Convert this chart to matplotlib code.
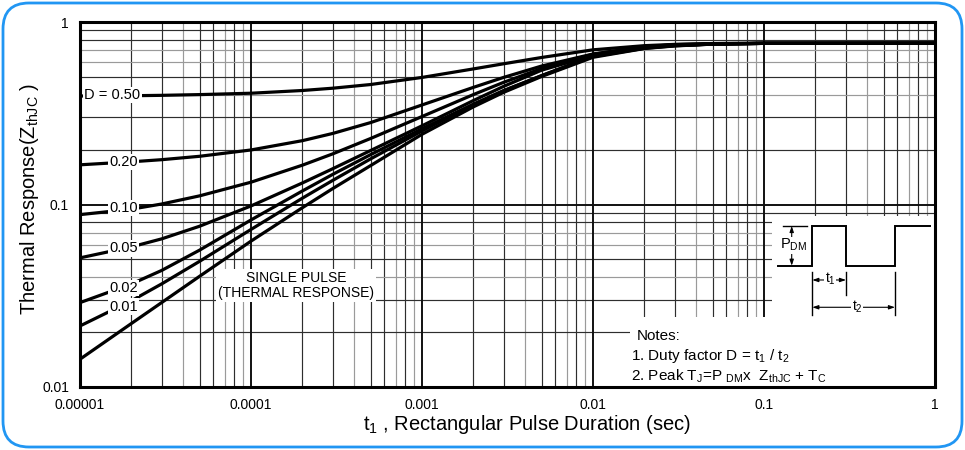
import numpy as np
import matplotlib
matplotlib.use("Agg")
import matplotlib.pyplot as plt
from matplotlib.patches import Rectangle, FancyBboxPatch
from matplotlib.transforms import IdentityTransform

plt.rcParams['font.family'] = ['Liberation Sans', 'DejaVu Sans']
plt.rcParams['mathtext.fontset'] = 'custom'
plt.rcParams['mathtext.rm'] = 'Liberation Sans'
plt.rcParams['mathtext.it'] = 'Liberation Sans'
plt.rcParams['mathtext.bf'] = 'Liberation Sans:bold'

# ---------------- data ----------------
t = [1e-5, 2e-5, 3e-5, 5e-5, 1e-4, 2e-4, 3e-4, 5e-4, 1e-3, 2e-3, 3e-3, 5e-3,
     1e-2, 2e-2, 3e-2, 5e-2, 1e-1, 1.0]
z_d50 = [0.393, 0.3945, 0.3964, 0.4001, 0.4071, 0.4214, 0.4337, 0.4543, 0.4969, 0.5534, 0.5903, 0.639,
         0.704, 0.742, 0.754, 0.7614, 0.7647, 0.765]
z_d20 = [0.165, 0.1714, 0.176, 0.1837, 0.199, 0.2238, 0.245, 0.281, 0.351, 0.4385, 0.497, 0.5736,
         0.668, 0.731, 0.752, 0.762, 0.765, 0.765]
z_d10 = [0.088, 0.0943, 0.1006, 0.1115, 0.1325, 0.1643, 0.1893, 0.2299, 0.3034, 0.4004, 0.467, 0.5557,
         0.6656, 0.7333, 0.7484, 0.7561, 0.7636, 0.765]
z_d05 = [0.051, 0.0586, 0.0648, 0.076, 0.0982, 0.1313, 0.1569, 0.1975, 0.2699, 0.3714, 0.4437, 0.5443,
         0.6566, 0.7234, 0.744, 0.7575, 0.7638, 0.765]
z_d02 = [0.029, 0.0367, 0.0435, 0.0562, 0.0823, 0.1187, 0.1461, 0.1875, 0.2599, 0.3549, 0.4207, 0.5084,
         0.6523, 0.7214, 0.7435, 0.7568, 0.7637, 0.765]
z_d01 = [0.0216, 0.0297, 0.0367, 0.0488, 0.073, 0.1084, 0.1354, 0.1777, 0.2529, 0.3528, 0.4199, 0.5075,
         0.6467, 0.7176, 0.741, 0.7565, 0.7638, 0.765]
z_single = [0.0142, 0.0223, 0.029, 0.0404, 0.063, 0.0961, 0.1221, 0.1633, 0.2425, 0.343, 0.4116, 0.5026,
            0.6405, 0.7158, 0.7391, 0.7565, 0.7638, 0.765]

curves = [z_d50, z_d20, z_d10, z_d05, z_d02, z_d01, z_single]
curve_labels = ["D = 0.50", "0.20", "0.10", "0.05", "0.02", "0.01"]
label_t = [1.55e-5, 1.79e-5, 1.79e-5, 1.79e-5, 1.79e-5, 1.79e-5]
label_z = [0.398, 0.171, 0.096, 0.0575, 0.0348, 0.0276]

x_ticks = [1e-5, 1e-4, 1e-3, 1e-2, 1e-1, 1]
x_ticklabels = ["0.00001", "0.0001", "0.001", "0.01", "0.1", "1"]
y_ticks = [0.01, 0.1, 1]
y_ticklabels = ["0.01", "0.1", "1"]

# ---------------- figure ----------------
fig = plt.figure(figsize=(9.65, 4.5), dpi=100)
ax = fig.add_axes([80/965, 1-387/450, 855/965, 365/450])
ax.set_xscale('log')
ax.set_yscale('log')
ax.set_xlim(1e-5, 1)
ax.set_ylim(0.01, 1)

# grid
dark, light = '#2e2e2e', '#9a9a9a'
gray_digits = {4, 7, 9}
for dec in [1e-5, 1e-4, 1e-3, 1e-2, 1e-1]:
    for d in range(2, 10):
        ax.axvline(dec*d, color=light if d in gray_digits else dark, lw=0.85, zorder=0.5)
for dec in [1e-2, 1e-1]:
    for d in range(2, 10):
        ax.axhline(dec*d, color=light if d in {4, 6, 7} else dark, lw=0.85, zorder=0.5)
for v in x_ticks[1:-1]:
    ax.axvline(v, color='#111111', lw=1.4, zorder=0.6)
ax.axhline(0.1, color='#111111', lw=1.4, zorder=0.6)

# white panels (notes + pulse diagram)
ax.add_patch(Rectangle((0.643, 0), 0.357, 0.192, transform=ax.transAxes,
                       facecolor='white', edgecolor='none', zorder=1))
ax.add_patch(Rectangle((0.809, 0), 0.191, 0.468, transform=ax.transAxes,
                       facecolor='white', edgecolor='none', zorder=1))

# curves
for z in curves:
    ax.plot(t, z, color='black', lw=2.3, solid_capstyle='butt', solid_joinstyle='round', zorder=3)

for lab, lt, lz in zip(curve_labels, label_t, label_z):
    ax.text(lt, lz, lab, fontsize=10.5, ha='center', va='center', zorder=4,
            bbox=dict(boxstyle='square,pad=0.08', facecolor='white', edgecolor='none'))

ax.text(1.83e-4, 0.0361, "SINGLE PULSE\n(THERMAL RESPONSE)", fontsize=10, ha='center',
        va='center', linespacing=1.05, zorder=4,
        bbox=dict(boxstyle='square,pad=0.15', facecolor='white', edgecolor='none'))

# notes
ax.text(0.651, 0.1397, "Notes:", transform=ax.transAxes, fontsize=11, va='center', zorder=4)
ax.text(0.645, 0.0849, "1. Duty factor D = t$_1$ / t$_2$", transform=ax.transAxes,
        fontsize=11, va='center', zorder=4)
ax.text(0.645, 0.0301, "2. Peak T$_J$=P $_{DM}$x  Z$_{thJC}$ + T$_C$", transform=ax.transAxes,
        fontsize=11, va='center', zorder=4)

# pulse diagram (axes-fraction coordinates)
tr = ax.transAxes
wx = [0.8164, 0.8565, 0.8565, 0.8959, 0.8959, 0.9532, 0.9532, 0.9942]
wy = [0.3323, 0.3323, 0.4411, 0.4411, 0.3323, 0.3323, 0.4411, 0.4411]
ax.plot(wx, wy, transform=tr, color='black', lw=1.4, zorder=4, solid_joinstyle='miter')
ax.plot([0.8222, 0.8503], [0.4411, 0.4411], transform=tr, color='black', lw=1.0, zorder=4)
for xx, y0 in [(0.8565, 0.1973), (0.8959, 0.2521), (0.9532, 0.1973)]:
    ax.plot([xx, xx], [0.3159, y0], transform=tr, color='black', lw=1.0, zorder=4)
arrow = dict(arrowstyle='<|-|>,head_length=0.35,head_width=0.12', color='black', lw=0.8,
             shrinkA=0, shrinkB=0)
ax.annotate("", xy=(0.8324, 0.4411), xytext=(0.8324, 0.3323), xycoords=tr, arrowprops=arrow, zorder=4)
ax.annotate("", xy=(0.8565, 0.2932), xytext=(0.8959, 0.2932), xycoords=tr, arrowprops=arrow, zorder=4)
ax.annotate("", xy=(0.8565, 0.2184), xytext=(0.9532, 0.2184), xycoords=tr, arrowprops=arrow, zorder=4)
ax.text(0.8187, 0.389, "P$_{DM}$", transform=tr, fontsize=10.5, va='center', ha='left', zorder=5,
        bbox=dict(boxstyle='square,pad=0.02', facecolor='white', edgecolor='none'))
ax.text(0.8772, 0.2959, "t$_1$", transform=tr, fontsize=10, va='center', ha='center', zorder=5,
        bbox=dict(boxstyle='square,pad=0.05', facecolor='white', edgecolor='none'))
ax.text(0.9088, 0.2184, "t$_2$", transform=tr, fontsize=10, va='center', ha='center', zorder=5,
        bbox=dict(boxstyle='square,pad=0.05', facecolor='white', edgecolor='none'))

# ticks / spines
ax.set_xticks(x_ticks)
ax.set_xticklabels(x_ticklabels)
ax.set_yticks(y_ticks)
ax.set_yticklabels(y_ticklabels)
ax.minorticks_off()
ax.tick_params(axis='both', which='both', length=0, labelsize=10, pad=8)
for s in ax.spines.values():
    s.set_linewidth(2.2)
    s.set_zorder(6)

fig.text(527/965, 1-425/450, "t$_1$ , Rectangular Pulse Duration (sec)", fontsize=14.5,
         ha='center', va='center')
fig.text(30/965, 1-199/450, "Thermal Response(Z$_{thJC}$ )", fontsize=14.5, rotation=90,
         ha='center', va='center')

# rounded blue frame
fig.patches.append(FancyBboxPatch((3, 3), 959, 444, boxstyle='round,pad=0,rounding_size=26',
                                  transform=IdentityTransform(), facecolor='none',
                                  edgecolor='#2196F3', lw=2.0))

fig.savefig("out.png", dpi=100)
